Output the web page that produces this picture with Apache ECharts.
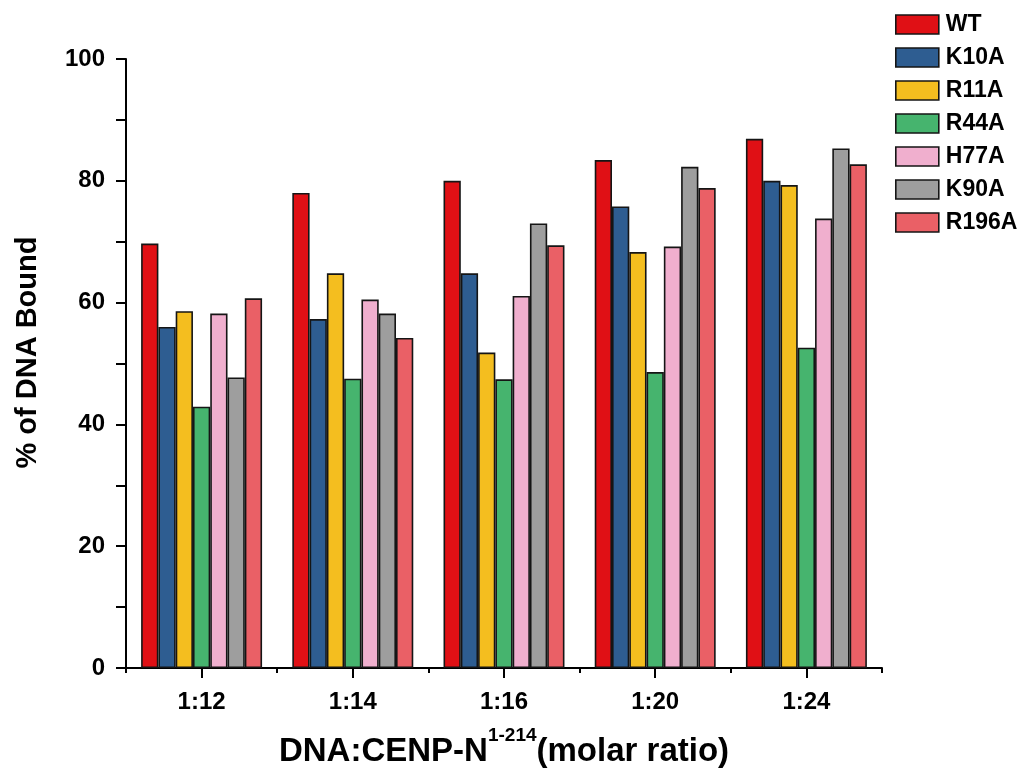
<!DOCTYPE html>
<html>
<head>
<meta charset="utf-8">
<script src="https://cdn.jsdelivr.net/npm/echarts@6/dist/echarts.min.js"></script>
<style>
html,body{margin:0;padding:0;background:#fff;}
#chart{width:1032px;height:773px;}
</style>
</head>
<body>
<div id="chart"></div>
<script>
var categories = ['1:12', '1:14', '1:16', '1:20', '1:24'];
var seriesNames = ['WT', 'K10A', 'R11A', 'R44A', 'H77A', 'K90A', 'R196A'];
var WT    = [69.7, 78.0, 80.0, 83.4, 86.9];
var K10A  = [56.0, 57.3, 64.8, 75.8, 80.0];
var R11A  = [58.6, 64.8, 51.8, 68.3, 79.3];
var R44A  = [42.9, 47.5, 47.4, 48.6, 52.6];
var H77A  = [58.2, 60.5, 61.1, 69.2, 73.8];
var K90A  = [47.7, 58.2, 73.0, 82.3, 85.3];
var R196A = [60.7, 54.2, 69.4, 78.8, 82.7];
var yMin = 0, yMax = 100, yStep = 10, yLabelStep = 20;

var values = [WT, K10A, R11A, R44A, H77A, K90A, R196A];
var colors = ['#E01015', '#2E5D91', '#F4BE1F', '#46B46E', '#F0AFCE', '#9E9E9E', '#EA6066'];
var FONT = 'Arial, "Liberation Sans", sans-serif';

var chart = echarts.init(document.getElementById('chart'), null, {renderer: 'canvas'});

var series = seriesNames.map(function (name, i) {
  return {
    name: name,
    type: 'bar',
    xAxisIndex: 0,
    data: values[i],
    barGap: '0%',
    barCategoryGap: '20%',
    itemStyle: {color: colors[i], borderColor: '#151515', borderWidth: 1.6},
    emphasis: {disabled: true}
  };
});

chart.setOption({
  animation: false,
  backgroundColor: '#ffffff',
  textStyle: {fontFamily: FONT},
  grid: {left: 126, right: 150, top: 59, bottom: 104, containLabel: false},
  legend: {
    orient: 'vertical',
    left: 890,
    top: 8,
    icon: 'rect',
    itemWidth: 43,
    itemHeight: 19,
    itemGap: 10,
    data: seriesNames,
    itemStyle: {borderColor: '#151515', borderWidth: 1.6},
    textStyle: {fontFamily: FONT, fontWeight: 'bold', fontSize: 23, color: '#000', padding: [0, 0, 0, 2]}
  },
  xAxis: [{
    type: 'category',
    data: categories,
    position: 'bottom',
    axisLine: {show: true, lineStyle: {color: '#000', width: 2}},
    axisTick: {show: true, alignWithLabel: true, length: 10, lineStyle: {color: '#000', width: 2}},
    axisLabel: {fontFamily: FONT, fontWeight: 'bold', fontSize: 24, color: '#000', margin: 22},
    name: '{m|DNA:CENP-N}{s|1-214}{m|(molar ratio)}',
    nameLocation: 'middle',
    nameGap: 58,
    nameTextStyle: {
      rich: {
        m: {fontFamily: FONT, fontWeight: 'bold', fontSize: 33, color: '#000', lineHeight: 42, verticalAlign: 'bottom'},
        s: {fontFamily: FONT, fontWeight: 'bold', fontSize: 19, color: '#000', lineHeight: 22, verticalAlign: 'top'}
      }
    },
    splitLine: {show: false}
  }, {
    type: 'category',
    data: categories,
    position: 'bottom',
    axisLine: {show: false},
    axisTick: {show: true, alignWithLabel: false, length: 5, lineStyle: {color: '#000', width: 2}},
    axisLabel: {show: false},
    splitLine: {show: false}
  }],
  yAxis: {
    type: 'value',
    min: yMin,
    max: yMax,
    interval: yStep,
    axisLine: {show: true, lineStyle: {color: '#000', width: 2}},
    axisTick: {show: true, length: 10, lineStyle: {color: '#000', width: 2}},
    axisLabel: {
      fontFamily: FONT, fontWeight: 'bold', fontSize: 24, color: '#000', margin: 21,
      formatter: function (v) { return v % yLabelStep === 0 ? String(v) : ''; }
    },
    splitLine: {show: false},
    name: '% of DNA Bound',
    nameLocation: 'middle',
    nameGap: 84,
    nameTextStyle: {fontFamily: FONT, fontWeight: 'bold', fontSize: 29, color: '#000', padding: [0, 0, 0, 22]}
  },
  series: series
});
</script>
</body>
</html>
